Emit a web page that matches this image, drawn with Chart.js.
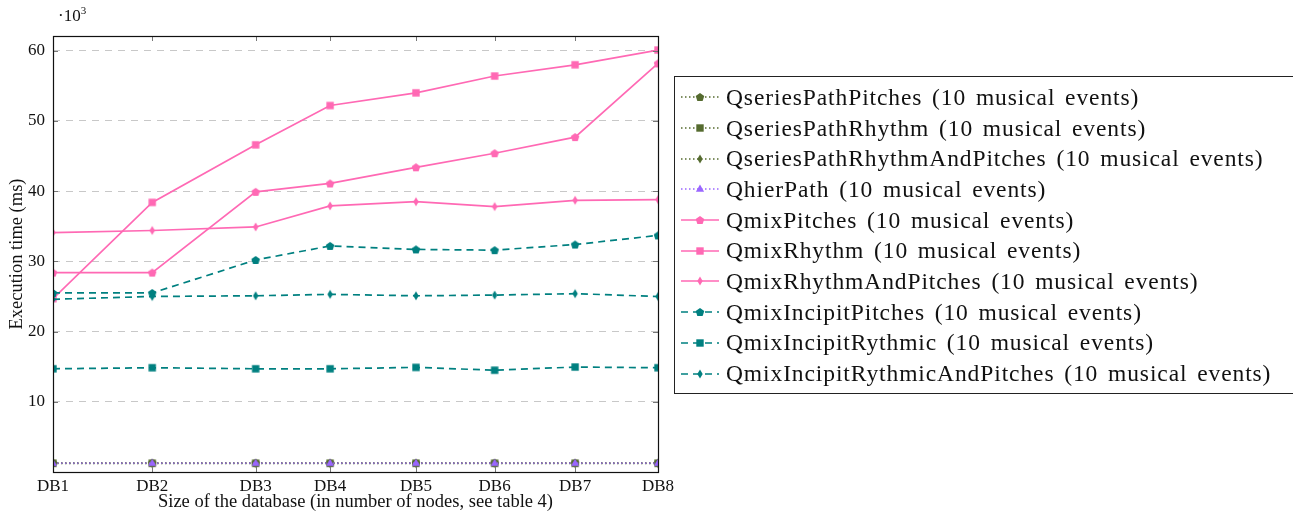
<!DOCTYPE html>
<html>
<head>
<meta charset="utf-8">
<script src="https://cdn.jsdelivr.net/npm/chart.js@4/dist/chart.umd.min.js"></script>
<style>
  html, body { margin: 0; padding: 0; background: #fff; }
  #wrap { position: relative; width: 1293px; height: 512px; overflow: hidden; font-family: "Liberation Serif", serif; color: #111; }
  #chart-box { position: absolute; left: 0; top: 0; width: 1293px; height: 512px; }
  #scale-note { position: absolute; left: 58px; top: 4px; font-size: 17px; }
  #scale-note sup { font-size: 11px; }
  #legend { position: absolute; left: 674px; top: 76px; width: 640px; height: 318px; border: 1px solid #222; box-sizing: border-box; padding-top: 5px; }
  .row { height: 30.7px; display: flex; align-items: center; font-size: 23.5px; letter-spacing: 0.9px; word-spacing: 3px; white-space: nowrap; }
  .row svg { margin-left: 6px; margin-right: 7px; flex: none; }
</style>
</head>
<body>
<div id="wrap">
  <div id="chart-box"><canvas id="chart"></canvas></div>
  <div id="scale-note">·10<sup>3</sup></div>
  <div id="legend"></div>
</div>
<script>
// x positions of the databases (relative size)
const dbLabels = ['DB1', 'DB2', 'DB3', 'DB4', 'DB5', 'DB6', 'DB7', 'DB8'];
const dbSize = [0, 16.4, 33.5, 45.8, 60.0, 73.0, 86.3, 100];

// execution time, in thousands of ms
const qseriesPathPitches = [1.30, 1.30, 1.30, 1.30, 1.30, 1.30, 1.30, 1.30];
const qseriesPathRhythm = [1.25, 1.25, 1.25, 1.25, 1.25, 1.25, 1.25, 1.25];
const qseriesPathRhythmAndPitches = [1.20, 1.20, 1.20, 1.20, 1.20, 1.20, 1.20, 1.20];
const qhierPath = [1.25, 1.25, 1.25, 1.25, 1.25, 1.25, 1.25, 1.25];
const qmixPitches = [28.4, 28.4, 39.9, 41.1, 43.4, 45.4, 47.7, 58.2];
const qmixRhythm = [24.7, 38.4, 46.6, 52.2, 54.0, 56.4, 58.0, 60.1];
const qmixRhythmAndPitches = [34.1, 34.4, 34.9, 37.9, 38.5, 37.8, 38.7, 38.8];
const qmixIncipitPitches = [25.5, 25.5, 30.2, 32.2, 31.7, 31.6, 32.4, 33.7];
const qmixIncipitRythmic = [14.7, 14.85, 14.7, 14.7, 14.9, 14.5, 14.95, 14.85];
const qmixIncipitRythmicAndPitches = [24.6, 25.0, 25.1, 25.3, 25.1, 25.2, 25.4, 25.0];

const yTicks = [0, 10, 20, 30, 40, 50, 60];

const PINK = '#ff69b4';
const TEAL = '#008080';
const OLIVE = '#556b2f';
const PURPLE = '#9a66ff';
const DOTTED = [1.5, 2.5];
const DASHED = [7, 5];

const series = [
    { label: 'QseriesPathPitches (10 musical events)', data: qseriesPathPitches, color: OLIVE, dash: DOTTED, mark: 'pentagon' },
    { label: 'QseriesPathRhythm (10 musical events)', data: qseriesPathRhythm, color: OLIVE, dash: DOTTED, mark: 'square' },
    { label: 'QseriesPathRhythmAndPitches (10 musical events)', data: qseriesPathRhythmAndPitches, color: OLIVE, dash: DOTTED, mark: 'diamond' },
    { label: 'QhierPath (10 musical events)', data: qhierPath, color: PURPLE, dash: DOTTED, mark: 'triangle' },
    { label: 'QmixPitches (10 musical events)', data: qmixPitches, color: PINK, dash: [], mark: 'pentagon' },
    { label: 'QmixRhythm (10 musical events)', data: qmixRhythm, color: PINK, dash: [], mark: 'square' },
    { label: 'QmixRhythmAndPitches (10 musical events)', data: qmixRhythmAndPitches, color: PINK, dash: [], mark: 'diamond' },
    { label: 'QmixIncipitPitches (10 musical events)', data: qmixIncipitPitches, color: TEAL, dash: DASHED, mark: 'pentagon' },
    { label: 'QmixIncipitRythmic (10 musical events)', data: qmixIncipitRythmic, color: TEAL, dash: DASHED, mark: 'square' },
    { label: 'QmixIncipitRythmicAndPitches (10 musical events)', data: qmixIncipitRythmicAndPitches, color: TEAL, dash: DASHED, mark: 'diamond' }
];

// marker outlines, centred on (0,0)
function shapePath(shape) {
    if (shape === 'pentagon') {
        const pts = [];
        for (let i = 0; i < 5; i++) {
            const a = -Math.PI / 2 + i * 2 * Math.PI / 5;
            pts.push([4.5 * Math.cos(a), 4.5 * Math.sin(a) + 0.4]);
        }
        return pts;
    }
    if (shape === 'square') return [[-3.7, -3.7], [3.7, -3.7], [3.7, 3.7], [-3.7, 3.7]];
    if (shape === 'diamond') return [[0, -4.5], [2.7, 0], [0, 4.5], [-2.7, 0]];
    return [[0, -4.6], [4.1, 2.7], [-4.1, 2.7]];
}

function makeMarker(shape, color) {
    const c = document.createElement('canvas');
    c.width = 12; c.height = 12;
    const ctx = c.getContext('2d');
    ctx.translate(6, 6);
    ctx.beginPath();
    shapePath(shape).forEach(([x, y], i) => i ? ctx.lineTo(x, y) : ctx.moveTo(x, y));
    ctx.closePath();
    ctx.fillStyle = color;
    ctx.fill();
    return c;
}

// pgfplots-like frame with inward ticks on all four sides
const framePlugin = {
    id: 'frame',
    afterDraw(chart) {
        const { ctx, chartArea: a, scales } = chart;
        ctx.save();
        ctx.strokeStyle = '#777';
        ctx.lineWidth = 1;
        ctx.beginPath();
        dbSize.forEach(v => {
            const x = Math.round(scales.x.getPixelForValue(v)) + 0.5;
            ctx.moveTo(x, a.bottom); ctx.lineTo(x, a.bottom - 5);
            ctx.moveTo(x, a.top); ctx.lineTo(x, a.top + 5);
        });
        yTicks.forEach(v => {
            const y = Math.round(scales.y.getPixelForValue(v)) + 0.5;
            ctx.moveTo(a.right, y); ctx.lineTo(a.right - 5, y);
            ctx.moveTo(a.left, y); ctx.lineTo(a.left + 5, y);
        });
        ctx.stroke();
        ctx.strokeStyle = '#111';
        ctx.lineWidth = 1.2;
        ctx.strokeRect(Math.round(a.left) + 0.5, Math.round(a.top) + 0.5,
            Math.round(a.right - a.left), Math.round(a.bottom - a.top));
        ctx.restore();
    }
};

const datasets = series.map((s, i) => ({
    label: s.label,
    data: s.data.map((v, j) => ({ x: dbSize[j], y: v })),
    borderColor: s.color,
    backgroundColor: s.color,
    borderWidth: s.dash === DOTTED ? 1.3 : 1.7,
    borderDash: s.dash,
    pointStyle: makeMarker(s.mark, s.color),
    pointRadius: 4,
    tension: 0,
    order: -i
}));

const tickFont = { family: 'Liberation Serif', size: 17 };
const titleFont = { family: 'Liberation Serif', size: 18.5 };

new Chart(document.getElementById('chart'), {
    type: 'line',
    data: { datasets },
    options: {
        responsive: true,
        maintainAspectRatio: false,
        animation: false,
        layout: { padding: { top: 36, right: 635, left: 0, bottom: 0 } },
        plugins: { legend: { display: false }, tooltip: { enabled: false } },
        scales: {
            x: {
                type: 'linear',
                min: 0,
                max: 100,
                afterBuildTicks: (axis) => { axis.ticks = dbSize.map(v => ({ value: v })); },
                afterFit: (axis) => { axis.height = 40; },
                grid: { display: false, drawTicks: false },
                border: { display: false },
                ticks: {
                    color: '#111',
                    font: tickFont,
                    padding: 4,
                    maxRotation: 0,
                    autoSkip: false,
                    callback: (v) => dbLabels[dbSize.indexOf(v)]
                },
                title: {
                    display: true,
                    text: 'Size of the database (in number of nodes, see table 4)',
                    color: '#111',
                    font: titleFont,
                    padding: { top: 0, bottom: -1 }
                }
            },
            y: {
                min: 0,
                max: 62.1,
                afterBuildTicks: (axis) => { axis.ticks = yTicks.map(v => ({ value: v })); },
                afterFit: (axis) => { axis.width = 53; },
                grid: {
                    drawTicks: false,
                    lineWidth: 1,
                    color: (c) => c.tick && c.tick.value === 0 ? 'rgba(0,0,0,0)' : '#c8c8c8'
                },
                border: { display: false, dash: [7, 6] },
                ticks: {
                    color: '#111',
                    font: tickFont,
                    padding: 8,
                    callback: (v) => v === 0 ? '' : v
                },
                title: {
                    display: true,
                    text: 'Execution time (ms)',
                    color: '#111',
                    font: titleFont,
                    padding: { top: 6, bottom: 0 }
                }
            }
        }
    },
    plugins: [framePlugin]
});

// legend with line + marker samples
const legendEl = document.getElementById('legend');
series.forEach(s => {
    const row = document.createElement('div');
    row.className = 'row';
    const pts = shapePath(s.mark).map(([x, y]) => `${(x + 19).toFixed(2)},${(y + 7).toFixed(2)}`).join(' ');
    const dash = s.dash.length ? `stroke-dasharray="${s.dash.join(' ')}"` : '';
    row.innerHTML = `<svg width="38" height="14" viewBox="0 0 38 14">
        <line x1="0" y1="7" x2="38" y2="7" stroke="${s.color}" stroke-width="${s.dash === DOTTED ? 1.3 : 1.7}" ${dash}/>
        <polygon points="${pts}" fill="${s.color}"/>
      </svg><span>${s.label}</span>`;
    legendEl.appendChild(row);
});
</script>
</body>
</html>
